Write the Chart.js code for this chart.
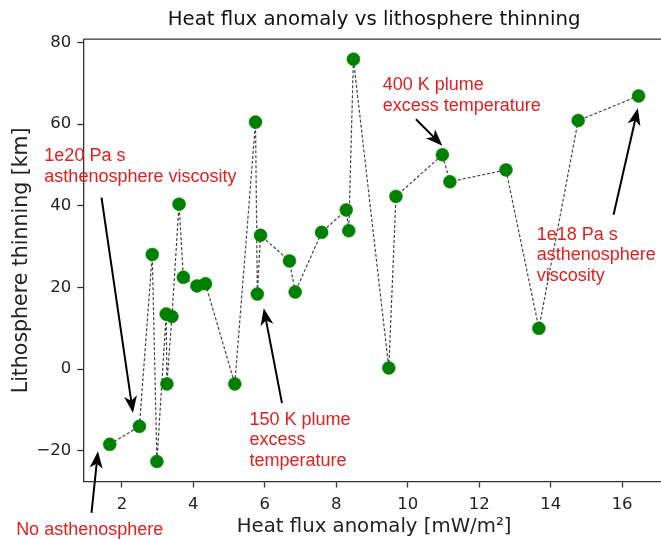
<!DOCTYPE html>
<html>
<head>
<meta charset="utf-8">
<script src="https://cdn.jsdelivr.net/npm/chart.js@4.4.1/dist/chart.umd.min.js"></script>
<style>
  html, body { margin: 0; padding: 0; background: #fff; overflow: hidden; }
  #wrap { width: 672px; height: 539px; }
</style>
</head>
<body>
<div id="wrap"><canvas id="c" width="672" height="539"></canvas></div>
<script>
// ---- data ----
const heatFlux = [1.66, 2.49, 2.85, 2.98, 3.24, 3.26, 3.40, 3.60, 3.72, 4.10, 4.34, 5.16, 5.74, 5.79, 5.88, 6.69, 6.85, 7.59, 8.28, 8.35, 8.48, 9.47, 9.67, 10.97, 11.18, 12.75, 13.67, 14.77, 16.46];
const thinning = [-18.4, -14.0, 28.1, -22.6, 13.5, -3.6, 12.9, 40.4, 22.5, 20.4, 20.9, -3.6, 60.5, 18.4, 32.8, 26.5, 18.9, 33.5, 39.0, 33.9, 75.9, 0.3, 42.3, 52.5, 45.9, 48.8, 10.0, 60.9, 66.9];
const xTicks = [2, 4, 6, 8, 10, 12, 14, 16];
const yTicks = [-20, 0, 20, 40, 60, 80];
const titleText = 'Heat flux anomaly vs lithosphere thinning';
const xLabel = 'Heat flux anomaly [mW/m\u00B2]';
const yLabel = 'Lithosphere thinning [km]';

// annotations: text lines, text anchor (left, first-line centre) and arrow tail/tip, in data units
const noteLines = [
  ['1e20 Pa s', 'asthenosphere viscosity'],
  ['400 K plume', 'excess temperature'],
  ['150 K plume', 'excess', 'temperature'],
  ['1e18 Pa s', 'asthenosphere', 'viscosity'],
  ['No asthenosphere']
];
const noteTextAt = [[-0.17, 52.2], [9.30, 69.6], [5.57, -12.4], [13.61, 32.9], [-0.96, -39.3]];
const arrowTail  = [[1.43, 42.0], [10.23, 61.2], [6.48, -8.3], [15.76, 37.8], [1.15, -35.2]];
const arrowTip   = [[2.31, -10.7], [10.97, 54.7], [5.97, 14.9], [16.44, 63.9], [1.33, -20.1]];

const points = heatFlux.map((x, i) => ({ x: x, y: thinning[i] }));
const fmt = v => String(v).replace('-', '\u2212');

const boxPlugin = {
  id: 'box',
  afterDatasetsDraw(chart) {
    const { ctx, chartArea: a } = chart;
    ctx.save();
    ctx.strokeStyle = '#333';
    ctx.lineWidth = 1.3;
    ctx.beginPath();
    ctx.moveTo(a.left, a.top); ctx.lineTo(a.right, a.top);
    ctx.moveTo(a.right, a.top); ctx.lineTo(a.right, a.bottom);
    ctx.stroke();
    // title, centred over the plot area
    ctx.fillStyle = '#111';
    ctx.font = '19.7px "DejaVu Sans"';
    ctx.textAlign = 'center';
    ctx.textBaseline = 'middle';
    ctx.fillText(titleText, (a.left + a.right) / 2, a.top - 19.5);
    ctx.restore();
  }
};

function drawArrow(ctx, tx, ty, hx, hy) {
  const dx = hx - tx, dy = hy - ty;
  const len = Math.hypot(dx, dy);
  const ux = dx / len, uy = dy / len;
  const px = -uy, py = ux;
  const hl = 17, hw = 6.5;
  const bx = hx - ux * hl, by = hy - uy * hl;
  const nx = hx - ux * hl * 0.72, ny = hy - uy * hl * 0.72;
  ctx.beginPath();
  ctx.moveTo(tx, ty);
  ctx.lineTo(nx, ny);
  ctx.stroke();
  ctx.beginPath();
  ctx.moveTo(hx, hy);
  ctx.lineTo(bx + px * hw, by + py * hw);
  ctx.lineTo(nx, ny);
  ctx.lineTo(bx - px * hw, by - py * hw);
  ctx.closePath();
  ctx.fill();
}

const notePlugin = {
  id: 'notes',
  afterDraw(chart) {
    const { ctx } = chart;
    const xs = chart.scales.x, ys = chart.scales.y;
    ctx.save();
    ctx.strokeStyle = '#000';
    ctx.fillStyle = '#000';
    ctx.lineWidth = 2;
    for (let i = 0; i < arrowTail.length; i++) {
      drawArrow(ctx,
        xs.getPixelForValue(arrowTail[i][0]), ys.getPixelForValue(arrowTail[i][1]),
        xs.getPixelForValue(arrowTip[i][0]), ys.getPixelForValue(arrowTip[i][1]));
    }
    ctx.font = '18px "Liberation Sans", Arial, sans-serif';
    ctx.fillStyle = '#e02020';
    ctx.textAlign = 'left';
    ctx.textBaseline = 'middle';
    for (let i = 0; i < noteLines.length; i++) {
      const x = xs.getPixelForValue(noteTextAt[i][0]);
      const y = ys.getPixelForValue(noteTextAt[i][1]);
      noteLines[i].forEach((t, k) => ctx.fillText(t, x, y + k * 20.6));
    }
    ctx.restore();
  }
};

new Chart(document.getElementById('c'), {
  type: 'scatter',
  data: {
    datasets: [{
      data: points,
      showLine: true,
      borderColor: '#444',
      borderWidth: 1.2,
      borderDash: [3, 2],
      pointRadius: 6.5,
      pointHoverRadius: 6.5,
      pointBackgroundColor: '#008000',
      pointBorderColor: '#008000',
      pointBorderWidth: 0.5,
      clip: false
    }]
  },
  options: {
    responsive: false,
    animation: false,
    devicePixelRatio: 1,
    layout: { padding: { left: 0, right: 3, top: 39.2, bottom: 0 } },
    plugins: {
      legend: { display: false },
      tooltip: { enabled: false },
      title: { display: false }
    },
    scales: {
      x: {
        type: 'linear',
        min: 0.92,
        max: 17.2,
        afterBuildTicks: s => { s.ticks = xTicks.map(v => ({ value: v })); },
        afterFit: s => { s.height = 57.5; },
        grid: { drawOnChartArea: false, drawTicks: true, tickLength: 6, tickColor: '#333', tickWidth: 1.3 },
        border: { display: true, color: '#333', width: 1.3 },
        ticks: {
          padding: 7, color: '#222',
          font: { family: '"DejaVu Sans"', size: 16.5 },
          maxRotation: 0, autoSkip: false,
          callback: v => fmt(v)
        },
        title: {
          display: true, text: xLabel, color: '#222',
          font: { family: '"DejaVu Sans"', size: 19.7 },
          padding: { top: 0, bottom: 0.6 }
        }
      },
      y: {
        type: 'linear',
        min: -27.5,
        max: 80.8,
        afterBuildTicks: s => { s.ticks = yTicks.map(v => ({ value: v })); },
        afterFit: s => { s.width = 83.3; },
        grid: { drawOnChartArea: false, drawTicks: true, tickLength: 6, tickColor: '#333', tickWidth: 1.3 },
        border: { display: true, color: '#333', width: 1.3 },
        ticks: {
          padding: 6, color: '#222',
          font: { family: '"DejaVu Sans"', size: 16.5 },
          autoSkip: false,
          callback: v => fmt(v)
        },
        title: {
          display: true, text: yLabel, color: '#222',
          font: { family: '"DejaVu Sans"', size: 20.5 },
          padding: { top: 9.7, bottom: 0 }
        }
      }
    }
  },
  plugins: [boxPlugin, notePlugin]
});
</script>
</body>
</html>
